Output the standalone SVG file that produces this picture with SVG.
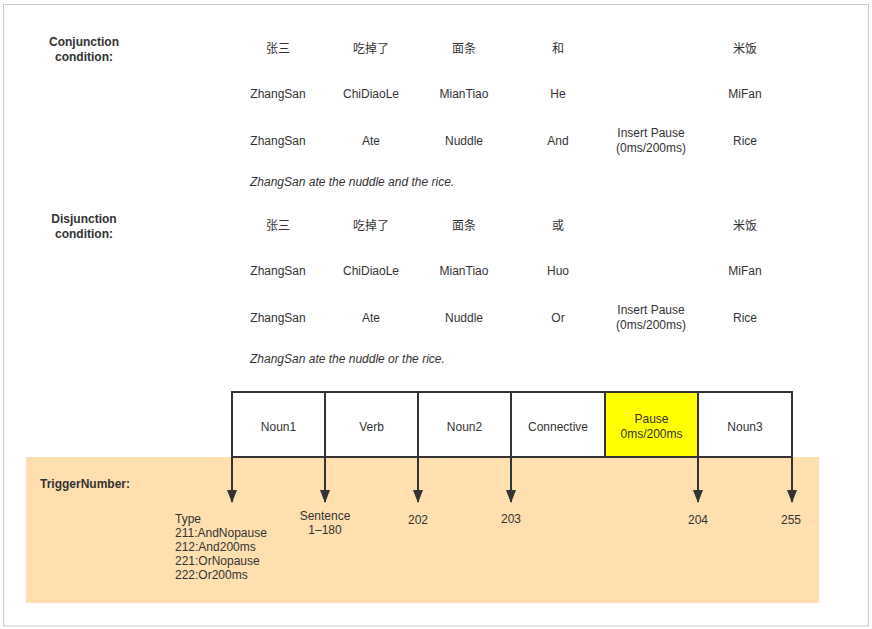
<svg xmlns="http://www.w3.org/2000/svg" width="872" height="629" viewBox="0 0 872 629">
<style>
text{font-family:"Liberation Sans","Noto Sans CJK SC",sans-serif;font-size:12px;fill:#333;}
.c{text-anchor:middle;}
.b{font-weight:bold;}
.i{font-style:italic;}
.box{fill:#fff;stroke:#333;stroke-width:2;}
.conn{stroke:#333;stroke-width:2;fill:none;}
</style>
<defs>
<marker id="ah" viewBox="0 0 13 10" refX="12" refY="5" markerWidth="13" markerHeight="10" markerUnits="userSpaceOnUse" orient="auto">
<path d="M0,0 L13,5 L0,10 Z" fill="#333"/>
</marker>
</defs>
<rect x="0" y="0" width="872" height="629" fill="#fff"/>
<rect x="3.5" y="4.5" width="865" height="621.5" fill="none" stroke="#ccc" stroke-width="1"/>
<rect x="26" y="457" width="793" height="146" fill="#ffdfb0"/>

<g id="conjunction">
<text class="c b" x="84" y="46">Conjunction</text>
<text class="c b" x="84" y="61">condition:</text>
<text class="c" x="278" y="53">张三</text>
<text class="c" x="371" y="53">吃掉了</text>
<text class="c" x="464" y="53">面条</text>
<text class="c" x="558" y="53">和</text>
<text class="c" x="745" y="53">米饭</text>
<text class="c" x="278" y="98">ZhangSan</text>
<text class="c" x="371" y="98">ChiDiaoLe</text>
<text class="c" x="464" y="98">MianTiao</text>
<text class="c" x="558" y="98">He</text>
<text class="c" x="745" y="98">MiFan</text>
<text class="c" x="278" y="145">ZhangSan</text>
<text class="c" x="371" y="145">Ate</text>
<text class="c" x="464" y="145">Nuddle</text>
<text class="c" x="558" y="145">And</text>
<text class="c" x="651" y="137">Insert Pause</text>
<text class="c" x="651" y="152">(0ms/200ms)</text>
<text class="c" x="745" y="145">Rice</text>
<text class="i" x="250" y="186">ZhangSan ate the nuddle and the rice.</text>
</g>

<g id="disjunction">
<text class="c b" x="84" y="223">Disjunction</text>
<text class="c b" x="84" y="238">condition:</text>
<text class="c" x="278" y="230">张三</text>
<text class="c" x="371" y="230">吃掉了</text>
<text class="c" x="464" y="230">面条</text>
<text class="c" x="558" y="230">或</text>
<text class="c" x="745" y="230">米饭</text>
<text class="c" x="278" y="275">ZhangSan</text>
<text class="c" x="371" y="275">ChiDiaoLe</text>
<text class="c" x="464" y="275">MianTiao</text>
<text class="c" x="558" y="275">Huo</text>
<text class="c" x="745" y="275">MiFan</text>
<text class="c" x="278" y="322">ZhangSan</text>
<text class="c" x="371" y="322">Ate</text>
<text class="c" x="464" y="322">Nuddle</text>
<text class="c" x="558" y="322">Or</text>
<text class="c" x="651" y="314">Insert Pause</text>
<text class="c" x="651" y="329">(0ms/200ms)</text>
<text class="c" x="745" y="322">Rice</text>
<text class="i" x="250" y="363">ZhangSan ate the nuddle or the rice.</text>
</g>

<g id="noun1"><rect class="box" x="232" y="392" width="93" height="65"/><text class="c" x="278.5" y="431">Noun1</text></g>
<g id="verb"><rect class="box" x="325" y="392" width="93" height="65"/><text class="c" x="371.5" y="431">Verb</text></g>
<g id="noun2"><rect class="box" x="418" y="392" width="93" height="65"/><text class="c" x="464.5" y="431">Noun2</text></g>
<g id="connective"><rect class="box" x="511" y="392" width="94" height="65"/><text class="c" x="558" y="431">Connective</text></g>
<g id="pause"><rect class="box" x="605" y="392" width="93" height="65" style="fill:#ffff00"/><text class="c" x="651.5" y="423">Pause</text><text class="c" x="651.5" y="438">0ms/200ms</text></g>
<g id="noun3"><rect class="box" x="698" y="392" width="94" height="65"/><text class="c" x="745" y="431">Noun3</text></g>

<g id="connectors">
<line class="conn" x1="232" y1="457" x2="232" y2="502" marker-end="url(#ah)"/>
<line class="conn" x1="325" y1="457" x2="325" y2="502" marker-end="url(#ah)"/>
<line class="conn" x1="418" y1="457" x2="418" y2="502" marker-end="url(#ah)"/>
<line class="conn" x1="511" y1="457" x2="511" y2="502" marker-end="url(#ah)"/>
<line class="conn" x1="698" y1="457" x2="698" y2="502" marker-end="url(#ah)"/>
<line class="conn" x1="792" y1="457" x2="792" y2="502" marker-end="url(#ah)"/>
</g>

<g id="trigger">
<text class="b" x="40" y="488">TriggerNumber:</text>
<text x="175" y="523">Type</text>
<text x="175" y="537">211:AndNopause</text>
<text x="175" y="551">212:And200ms</text>
<text x="175" y="565">221:OrNopause</text>
<text x="175" y="579">222:Or200ms</text>
<text class="c" x="325" y="520">Sentence</text>
<text class="c" x="325" y="534">1–180</text>
<text class="c" x="418" y="524">202</text>
<text class="c" x="511" y="523">203</text>
<text class="c" x="698" y="524">204</text>
<text class="c" x="791" y="524">255</text>
</g>
</svg>
